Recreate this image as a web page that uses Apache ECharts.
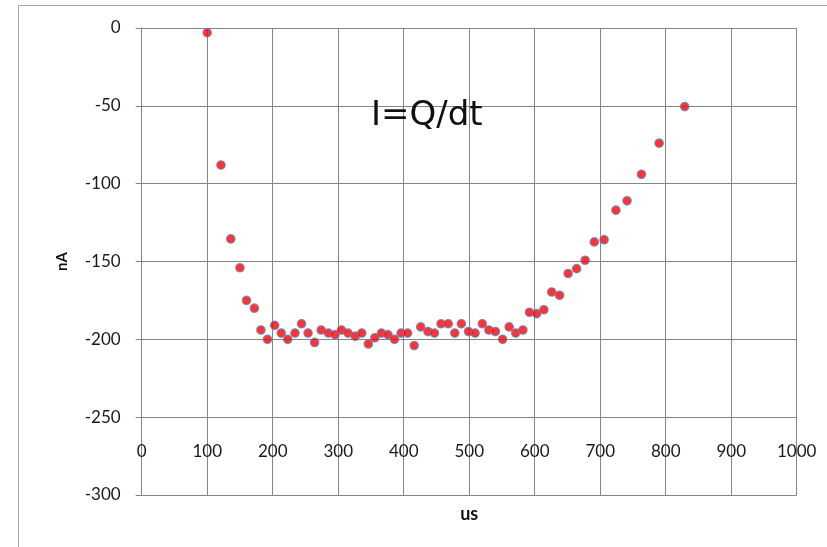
<!DOCTYPE html>
<html>
<head>
<meta charset="utf-8">
<style>
  html, body { margin: 0; padding: 0; background: #ffffff; }
  #chart { width: 827px; height: 547px; }
</style>
<script src="https://cdn.jsdelivr.net/npm/echarts@6/dist/echarts.min.js"></script>
</head>
<body>
<div id="chart"></div>
<script>
// Time after start (us) and measured current (nA)
const timeUs = [
  100, 121, 136, 150, 160, 172, 182, 192, 203, 213,
  223, 234, 244, 254, 264, 274, 285, 295, 305, 315,
  326, 336, 346, 356, 366, 376, 386, 396, 406, 416,
  426, 437, 447, 457, 468, 478, 488, 499, 509, 520,
  530, 540, 551, 561, 571, 582, 592, 603, 614, 626,
  638, 651, 664, 677, 691, 706, 724, 741, 763, 790,
  829
];
const currentNA = [
  -3, -88, -135.5, -154, -175, -180, -194, -200, -191, -196,
  -200, -196, -190, -196, -202, -194, -196, -197, -194, -196,
  -198, -196, -203, -199, -196, -197, -200, -196, -196, -204,
  -192, -195, -196, -190, -190, -196, -190, -195, -196, -190,
  -194, -195, -200, -192, -196, -194, -182.6, -183.5, -181, -169.6,
  -171.7, -157.7, -154.6, -149.2, -137.4, -136, -117, -111, -94, -74,
  -50.5
];

const xTitle = 'us';
const yTitle = 'nA';
const formulaText = 'I=Q/dt';

const gridColor = '#858585';
const labelFont = 'Lato';

const points = timeUs.map((t, i) => [t, currentNA[i]]);

const chart = echarts.init(document.getElementById('chart'), null, { renderer: 'canvas' });

chart.setOption({
  backgroundColor: '#ffffff',
  animation: false,
  grid: { left: 141.7, right: 30.3, top: 28, bottom: 52, containLabel: false },
  xAxis: {
    type: 'value',
    min: 0,
    max: 1000,
    interval: 100,
    position: 'bottom',
    // axis sits on the -250 line, one y-step above the plot bottom
    offset: -77.8,
    name: xTitle,
    nameLocation: 'middle',
    nameGap: 88,
    nameTextStyle: { fontFamily: labelFont, fontWeight: 'bold', fontSize: 18, color: '#111' },
    axisLine: { show: true, lineStyle: { color: gridColor, width: 1 } },
    axisTick: { show: false },
    axisLabel: {
      margin: 26, fontFamily: labelFont, fontSize: 17, color: '#1a1a1a',
      formatter: (v) => String(v)
    },
    splitLine: { show: true, lineStyle: { color: gridColor, width: 1 } }
  },
  yAxis: {
    type: 'value',
    min: -300,
    max: 0,
    interval: 50,
    name: yTitle,
    nameLocation: 'middle',
    nameGap: 72,
    nameTextStyle: { fontFamily: labelFont, fontWeight: 'bold', fontSize: 15, color: '#111' },
    axisLine: { show: true, lineStyle: { color: gridColor, width: 1 } },
    axisTick: { show: true, length: 6, lineStyle: { color: gridColor, width: 1 } },
    axisLabel: {
      margin: 21, fontFamily: labelFont, fontSize: 17, color: '#1a1a1a',
      formatter: (v) => String(v)
    },
    splitLine: { show: true, lineStyle: { color: gridColor, width: 1 } }
  },
  graphic: [
    {
      type: 'rect',
      silent: true,
      shape: { x: 18.5, y: 5.5, width: 900, height: 700 },
      style: { fill: 'none', stroke: '#a6a6a6', lineWidth: 1 },
      z: -1
    },
    {
      type: 'text',
      silent: true,
      style: {
        x: 371,
        y: 116,
        text: formulaText,
        font: '34px "DejaVu Sans"',
        fill: '#111',
        textAlign: 'left',
        textVerticalAlign: 'middle'
      },
      z: 10
    }
  ],
  series: [
    {
      type: 'scatter',
      data: points,
      symbol: 'circle',
      symbolSize: 8.5,
      itemStyle: { color: '#ff0000', borderColor: '#5d86c2', borderWidth: 1.2 },
      z: 5
    }
  ]
});
</script>
</body>
</html>
